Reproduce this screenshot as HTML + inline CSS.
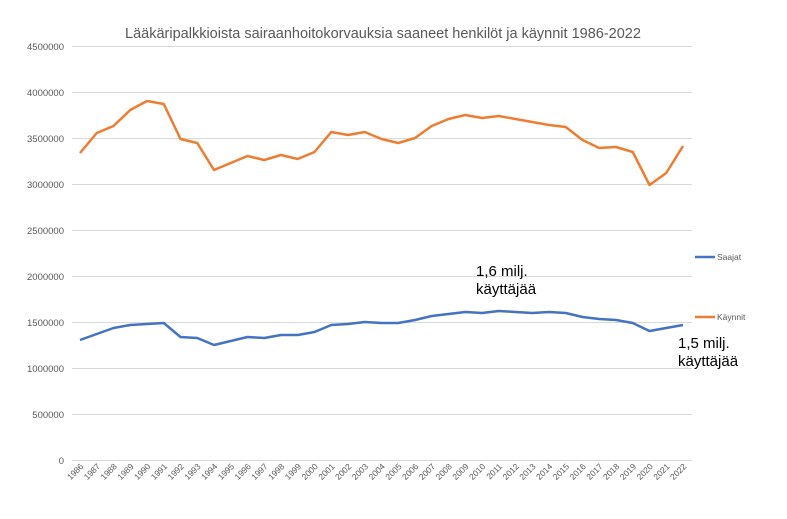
<!DOCTYPE html>
<html><head><meta charset="utf-8"><style>
html,body{margin:0;padding:0;background:#fff;}
svg{display:block;font-family:"Liberation Sans",sans-serif;}
</style></head><body>
<svg width="787" height="519" viewBox="0 0 787 519">
<text x="383" y="38" font-size="14.5" fill="#595959" text-anchor="middle">Lääkäripalkkioista sairaanhoitokorvauksia saaneet henkilöt ja käynnit 1986-2022</text>
<g stroke="#d9d9d9" stroke-width="1">
<line x1="72" x2="692" y1="46.5" y2="46.5"/><line x1="72" x2="692" y1="92.5" y2="92.5"/><line x1="72" x2="692" y1="138.5" y2="138.5"/><line x1="72" x2="692" y1="184.5" y2="184.5"/><line x1="72" x2="692" y1="230.5" y2="230.5"/><line x1="72" x2="692" y1="276.5" y2="276.5"/><line x1="72" x2="692" y1="322.5" y2="322.5"/><line x1="72" x2="692" y1="368.5" y2="368.5"/><line x1="72" x2="692" y1="414.5" y2="414.5"/><line x1="72" x2="692" y1="460.5" y2="460.5"/>
</g>
<g font-size="9.5" fill="#595959" text-anchor="end">
<text x="64" y="50">4500000</text><text x="64" y="96">4000000</text><text x="64" y="142">3500000</text><text x="64" y="188">3000000</text><text x="64" y="234">2500000</text><text x="64" y="280">2000000</text><text x="64" y="326">1500000</text><text x="64" y="372">1000000</text><text x="64" y="418">500000</text><text x="64" y="464">0</text>
</g>
<g font-size="8.5" fill="#595959" text-anchor="end">
<text transform="translate(84,467) rotate(-45)">1986</text><text transform="translate(100.75,467) rotate(-45)">1987</text><text transform="translate(117.5,467) rotate(-45)">1988</text><text transform="translate(134.25,467) rotate(-45)">1989</text><text transform="translate(151,467) rotate(-45)">1990</text><text transform="translate(167.75,467) rotate(-45)">1991</text><text transform="translate(184.5,467) rotate(-45)">1992</text><text transform="translate(201.25,467) rotate(-45)">1993</text><text transform="translate(218,467) rotate(-45)">1994</text><text transform="translate(234.75,467) rotate(-45)">1995</text><text transform="translate(251.5,467) rotate(-45)">1996</text><text transform="translate(268.25,467) rotate(-45)">1997</text><text transform="translate(285,467) rotate(-45)">1998</text><text transform="translate(301.75,467) rotate(-45)">1999</text><text transform="translate(318.5,467) rotate(-45)">2000</text><text transform="translate(335.25,467) rotate(-45)">2001</text><text transform="translate(352,467) rotate(-45)">2002</text><text transform="translate(368.75,467) rotate(-45)">2003</text><text transform="translate(385.5,467) rotate(-45)">2004</text><text transform="translate(402.25,467) rotate(-45)">2005</text><text transform="translate(419,467) rotate(-45)">2006</text><text transform="translate(435.75,467) rotate(-45)">2007</text><text transform="translate(452.5,467) rotate(-45)">2008</text><text transform="translate(469.25,467) rotate(-45)">2009</text><text transform="translate(486,467) rotate(-45)">2010</text><text transform="translate(502.75,467) rotate(-45)">2011</text><text transform="translate(519.5,467) rotate(-45)">2012</text><text transform="translate(536.25,467) rotate(-45)">2013</text><text transform="translate(553,467) rotate(-45)">2014</text><text transform="translate(569.75,467) rotate(-45)">2015</text><text transform="translate(586.5,467) rotate(-45)">2016</text><text transform="translate(603.25,467) rotate(-45)">2017</text><text transform="translate(620,467) rotate(-45)">2018</text><text transform="translate(636.75,467) rotate(-45)">2019</text><text transform="translate(653.5,467) rotate(-45)">2020</text><text transform="translate(670.25,467) rotate(-45)">2021</text><text transform="translate(687,467) rotate(-45)">2022</text>
</g>
<polyline fill="none" stroke="#ed7d31" stroke-width="2.5" stroke-linejoin="round" points="80,153 96.75,133 113.5,126 130.25,110 147,101 163.75,104 180.5,139 197.25,143 214,170 230.75,163 247.5,156 264.25,160 281,155 297.75,159 314.5,152 331.25,132 348,135 364.75,132 381.5,139 398.25,143 415,138 431.75,126 448.5,119 465.25,115 482,118 498.75,116 515.5,119 532.25,122 549,125 565.75,127 582.5,140 599.25,148 616,147 632.75,152 649.5,185 666.25,173 683,146"/>
<polyline fill="none" stroke="#4472c4" stroke-width="2.5" stroke-linejoin="round" points="80,340 96.75,334 113.5,328 130.25,325 147,324 163.75,323 180.5,337 197.25,338 214,345 230.75,341 247.5,337 264.25,338 281,335 297.75,335 314.5,332 331.25,325 348,324 364.75,322 381.5,323 398.25,323 415,320 431.75,316 448.5,314 465.25,312 482,313 498.75,311 515.5,312 532.25,313 549,312 565.75,313 582.5,317 599.25,319 616,320 632.75,323 649.5,331 666.25,328 683,325"/>
<line x1="695" x2="715" y1="257" y2="257" stroke="#4472c4" stroke-width="2.5"/>
<text x="717" y="260" font-size="8.5" fill="#595959">Saajat</text>
<line x1="695" x2="715" y1="317" y2="317" stroke="#ed7d31" stroke-width="2.5"/>
<text x="717" y="320" font-size="8.5" fill="#595959">Käynnit</text>
<g font-size="15" fill="#000">
<text x="476" y="276">1,6 milj.</text><text x="476" y="294">käyttäjää</text>
<text x="678" y="348">1,5 milj.</text><text x="678" y="366">käyttäjää</text>
</g>
</svg>
</body></html>
